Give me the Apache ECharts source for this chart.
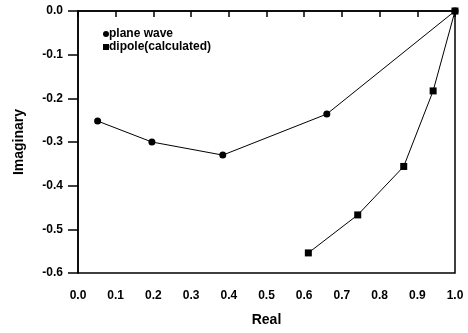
<!DOCTYPE html>
<html><head><meta charset="utf-8">
<script src="https://cdn.jsdelivr.net/npm/echarts@6/dist/echarts.min.js"></script>
<style>html,body{margin:0;padding:0;background:#fff}#c{width:468px;height:333px}</style>
</head><body><div id="c"></div>
<script>
const planeWaveReal = [0.052, 0.196, 0.384, 0.66, 1.0];
const planeWaveImag = [-0.252, -0.300, -0.330, -0.236, 0.0];
const dipoleReal = [0.611, 0.742, 0.864, 0.942, 1.0];
const dipoleImag = [-0.554, -0.467, -0.356, -0.183, 0.0];
const seriesNames = ['plane wave', 'dipole(calculated)'];
const xTitle = 'Real';
const yTitle = 'Imaginary';

const pair = (xs, ys) => xs.map((x, i) => [x, ys[i]]);
const font = 'Liberation Sans, Arial, sans-serif';
const chart = echarts.init(document.getElementById('c'), null, {renderer: 'canvas'});
chart.setOption({
  animation: false,
  backgroundColor: '#fff',
  grid: {left: 78, right: 13, top: 11, bottom: 60, show: true, borderColor: '#000', borderWidth: 1.5},
  legend: {
    left: 98, top: 23, orient: 'vertical', itemGap: 1, itemWidth: 6, itemHeight: 6,
    textStyle: {fontFamily: font, fontSize: 12, fontWeight: 'bold', color: '#000', padding: [0,0,0,-5]},
    data: [{name: seriesNames[0], icon: 'circle'}, {name: seriesNames[1], icon: 'rect'}]
  },
  xAxis: {
    type: 'value', min: 0, max: 1, interval: 0.1,
    name: xTitle, nameLocation: 'middle', nameGap: 40,
    nameTextStyle: {fontFamily: font, fontSize: 14, fontWeight: 'bold', color: '#000'},
    axisLine: {show: true, lineStyle: {color: '#000', width: 1.5}},
    axisTick: {show: true, inside: false, length: 6, lineStyle: {color: '#000', width: 1.5}},
    axisLabel: {fontFamily: font, fontSize: 12, fontWeight: 'bold', color: '#000', margin: 17,
      formatter: v => v.toFixed(1)},
    splitLine: {show: false}
  },
  yAxis: {
    type: 'value', min: -0.6, max: 0, interval: 0.1,
    name: yTitle, nameLocation: 'middle', nameGap: 52,
    nameTextStyle: {fontFamily: font, fontSize: 14, fontWeight: 'bold', color: '#000'},
    axisLine: {show: true, lineStyle: {color: '#000', width: 1.5}},
    axisTick: {show: true, inside: false, length: 10, lineStyle: {color: '#000', width: 1.5}},
    axisLabel: {fontFamily: font, fontSize: 12, fontWeight: 'bold', color: '#000', margin: 15,
      formatter: v => (Math.abs(v) < 1e-9 ? '0.0' : v.toFixed(1))},
    splitLine: {show: false}
  },
  series: [
    {name: seriesNames[0], type: 'line', data: pair(planeWaveReal, planeWaveImag),
     symbol: 'circle', symbolSize: 7, showAllSymbol: true,
     lineStyle: {color: '#000', width: 1}, itemStyle: {color: '#000'}},
    {name: seriesNames[1], type: 'line', data: pair(dipoleReal, dipoleImag),
     symbol: 'rect', symbolSize: 7, showAllSymbol: true,
     lineStyle: {color: '#000', width: 1}, itemStyle: {color: '#000'}}
  ]
});
</script></body></html>
